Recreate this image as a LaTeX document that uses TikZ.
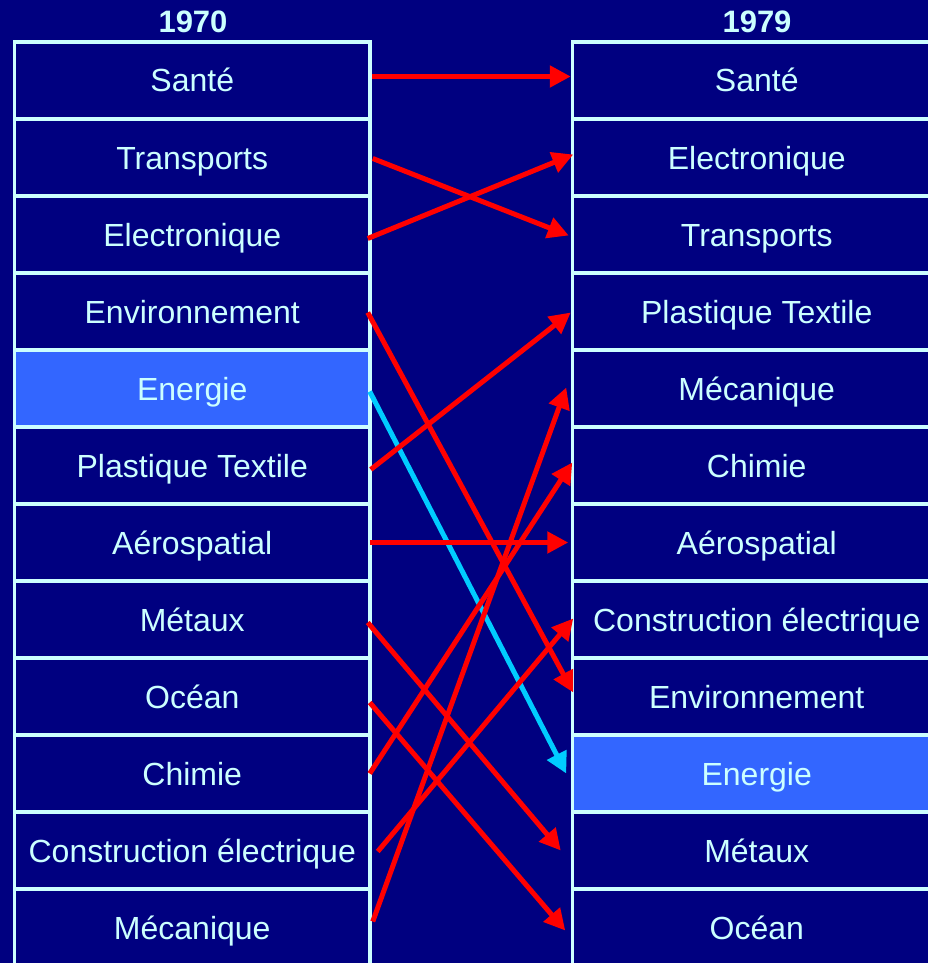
\documentclass[tikz,border=0pt]{standalone}
\usepackage{fontspec}
\setmainfont{Liberation Sans}
\usetikzlibrary{arrows.meta,calc}
\definecolor{bg}{HTML}{000080}
\definecolor{fg}{HTML}{CCFFFF}
\definecolor{hl}{HTML}{3366FF}
\definecolor{cyanarr}{HTML}{00CCFF}
\begin{document}
\begin{tikzpicture}[x=1pt,y=-1pt,
  cell/.style={draw=fg,line width=3.5pt,fill=bg,text=fg,font=\fontsize{32}{38}\selectfont,minimum height=77pt,inner sep=0pt,text height=23pt,text depth=0pt},
  lcell/.style={cell,minimum width=355.5pt},
  rcell/.style={cell,minimum width=368.5pt},
  hcell/.style={fill=hl},
  head/.style={text=fg,font=\bfseries\fontsize{31}{36}\selectfont,inner sep=0pt,text height=22pt,text depth=0pt},
  link/.style={draw=red,line width=5pt,-{Triangle[length=21pt,width=21pt]}},
  elink/.style={link,draw=cyanarr}]
\useasboundingbox (0,0) rectangle (928,963);
\clip (0,0) rectangle (928,963);
\fill[bg] (0,0) rectangle (928,963);
% left column
\node[lcell] (L0) at (192.25,80.5) {Santé};
\node[lcell] (L1) at (192.25,157.5) {Transports};
\node[lcell] (L2) at (192.25,234.5) {Electronique};
\node[lcell] (L3) at (192.25,311.5) {Environnement};
\node[lcell,hcell] (L4) at (192.25,388.5) {Energie};
\node[lcell] (L5) at (192.25,465.5) {Plastique Textile};
\node[lcell] (L6) at (192.25,542.5) {Aérospatial};
\node[lcell] (L7) at (192.25,619.5) {Métaux};
\node[lcell] (L8) at (192.25,696.5) {Océan};
\node[lcell] (L9) at (192.25,773.5) {Chimie};
\node[lcell] (L10) at (192.25,850.5) {Construction électrique};
\node[lcell] (L11) at (192.25,927.5) {Mécanique};
% right column
\node[rcell] (R0) at (756.75,80.5) {Santé};
\node[rcell] (R1) at (756.75,157.5) {Electronique};
\node[rcell] (R2) at (756.75,234.5) {Transports};
\node[rcell] (R3) at (756.75,311.5) {Plastique Textile};
\node[rcell] (R4) at (756.75,388.5) {Mécanique};
\node[rcell] (R5) at (756.75,465.5) {Chimie};
\node[rcell] (R6) at (756.75,542.5) {Aérospatial};
\node[rcell] (R7) at (756.75,619.5) {Construction électrique};
\node[rcell] (R8) at (756.75,696.5) {Environnement};
\node[rcell,hcell] (R9) at (756.75,773.5) {Energie};
\node[rcell] (R10) at (756.75,850.5) {Métaux};
\node[rcell] (R11) at (756.75,927.5) {Océan};
% headers
\node[head] (H1) at (193,21.5) {1970};
\node[head] (H2) at (757,21.5) {1979};
% links
\draw[link] ($(L0.east)+(0,-4)$) -- ($(R0.west)+(0,-4)$);
\draw[link] ($(L1.east)+(1,1)$) -- ($(R2.west)+(-2,1)$);
\draw[link] ($(L2.east)+(-4,4)$) -- ($(R1.west)+(2.5,-3)$);
\draw[link] ($(L3.east)+(-4,1)$) -- ($(R8.west)+(2.5,-4)$);
\draw[elink] ($(L4.east)+(-2,3)$) -- ($(R9.west)+(-4.5,0)$);
\draw[link] ($(L5.east)+(-1,4)$) -- ($(R3.west)+(0,1)$);
\draw[link] ($(L6.east)+(-2,0)$) -- ($(R6.west)+(-2.5,0)$);
\draw[link] ($(L7.east)+(-4,3)$) -- ($(R10.west)+(-10,0)$);
\draw[link] ($(L8.east)+(-2,6)$) -- ($(R11.west)+(-5.5,3)$);
\draw[link] ($(L9.east)+(-2,0)$) -- ($(R5.west)+(1.5,-3)$);
\draw[link] ($(L10.east)+(6,1)$) -- ($(R7.west)+(2.5,-1)$);
\draw[link] ($(L11.east)+(1,-6)$) -- ($(R4.west)+(-4.5,-1)$);
\end{tikzpicture}
\end{document}
